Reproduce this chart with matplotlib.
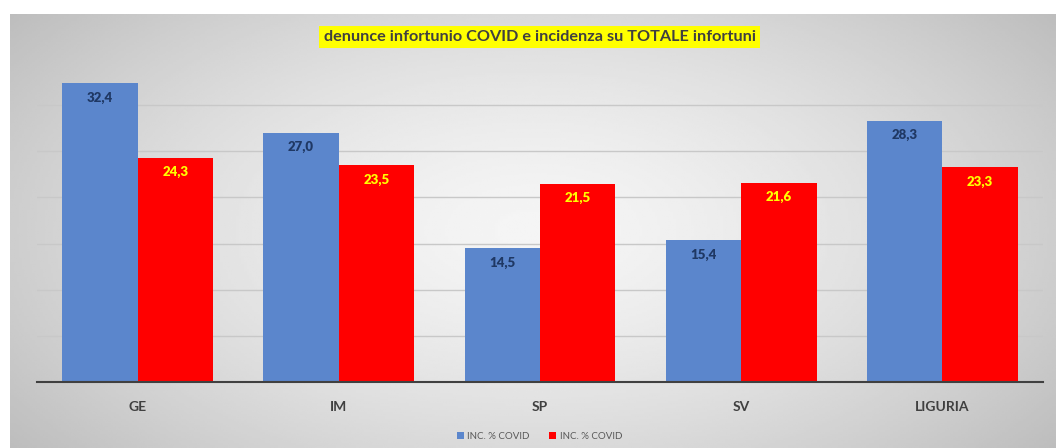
import matplotlib.pyplot as plt
import numpy as np

categorie = ['GE', 'IM', 'SP', 'SV', 'LIGURIA']
inc_covid_blu = [32.4, 27.0, 14.5, 15.4, 28.3]
inc_covid_rosso = [24.3, 23.5, 21.5, 21.6, 23.3]
etichetta_serie = 'INC. % COVID'
titolo = 'denunce infortunio COVID e incidenza su TOTALE infortuni'

plt.rcParams['font.family'] = ['Lato', 'DejaVu Sans']

fig = plt.figure(figsize=(10.56, 4.48), dpi=100)

# sfondo grigio sfumato
bg = fig.add_axes([10 / 1056, 0, 1 - 10 / 1056, 1 - 14 / 448], zorder=0)
yy, xx = np.mgrid[-1:1:200j, -1:1:400j]
r = np.sqrt((xx * 0.9) ** 2 + (yy * 0.7) ** 2)
shade = 0.96 - 0.18 * np.clip(r, 0, 1.3) ** 1.5
bg.imshow(shade, cmap='gray', vmin=0, vmax=1, aspect='auto', extent=[0, 1, 0, 1])
bg.axis('off')

ax = fig.add_axes([37 / 1056, 66 / 448, (1043 - 37) / 1056, (389 - 66) / 448], zorder=1)
ax.patch.set_alpha(0)

x = np.arange(len(categorie))
w = 0.375
b1 = ax.bar(x - w / 2, inc_covid_blu, w, color='#5b86cc', label=etichetta_serie, zorder=2)
b2 = ax.bar(x + w / 2, inc_covid_rosso, w, color='#ff0000', label=etichetta_serie, zorder=2)

for rect, v in zip(b1, inc_covid_blu):
    ax.annotate(f'{v:.1f}'.replace('.', ','), (rect.get_x() + rect.get_width() / 2, v),
                xytext=(0, -10.5), textcoords='offset points', ha='center', va='center',
                fontsize=9.5, color='#1f3864', fontweight='heavy', zorder=3)
for rect, v in zip(b2, inc_covid_rosso):
    ax.annotate(f'{v:.1f}'.replace('.', ','), (rect.get_x() + rect.get_width() / 2, v),
                xytext=(0, -10.5), textcoords='offset points', ha='center', va='center',
                fontsize=9.5, color='#ffff00', fontweight='heavy', zorder=3)

ax.set_xlim(-0.5, len(categorie) - 0.5)
ax.set_ylim(0, 35)
ax.set_yticks(np.arange(5, 35, 5))
ax.yaxis.grid(True, color='#c8c8c8', linewidth=1, zorder=0)
ax.tick_params(axis='y', left=False, labelleft=False)
ax.tick_params(axis='x', bottom=False, pad=10)
ax.set_xticks(x)
ax.set_xticklabels(categorie, fontsize=10, fontweight='bold', color='#404040')
for s in ['top', 'right', 'left']:
    ax.spines[s].set_visible(False)
ax.spines['bottom'].set_color('#404040')
ax.spines['bottom'].set_linewidth(1.5)

fig.text(0.511, 1 - 37 / 448, titolo, ha='center', va='center', fontsize=11.7,
         fontweight='bold', color='#404040',
         bbox=dict(facecolor='#ffff00', edgecolor='none', pad=3))

fig.legend(loc='center', bbox_to_anchor=(0.511, 1 - 436 / 448), ncol=2, frameon=False,
           fontsize=7, handlelength=0.7, handleheight=0.7, columnspacing=2.0,
           handletextpad=0.4, labelcolor='#595959')

fig.savefig('out.png', dpi=100)
